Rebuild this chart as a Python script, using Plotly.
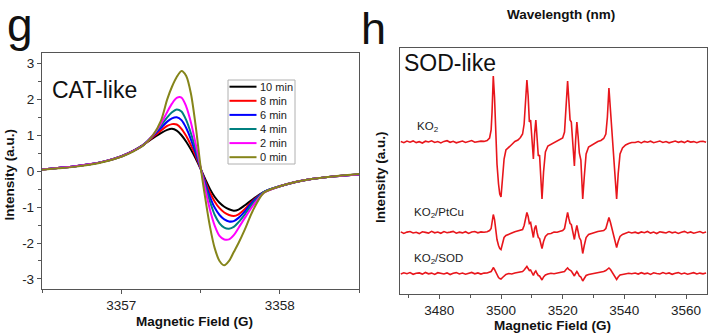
import plotly.graph_objects as go

W, H = 724, 336
FONT = "Liberation Sans, Arial, sans-serif"

# ---------------- Panel g data (CAT-like) ----------------
FIELD_G = [3356.50, 3356.60, 3356.70, 3356.80, 3356.90, 3357.00, 3357.08, 3357.14,
           3357.20, 3357.25, 3357.29, 3357.32, 3357.35, 3357.38, 3357.41, 3357.44,
           3357.47, 3357.50, 3357.53, 3357.56, 3357.59, 3357.62, 3357.65, 3357.68,
           3357.71, 3357.74, 3357.78, 3357.83, 3357.90, 3358.00, 3358.10, 3358.20,
           3358.35, 3358.50]
CAT_LABELS = ["10 min", "8 min", "6 min", "4 min", "2 min", "0 min"]
CAT_COLORS = ["#000000", "#ff0000", "#0000ff", "#008080", "#ff00ff", "#85851a"]
CAT_10 = [0.05, 0.09, 0.13, 0.19, 0.28, 0.42, 0.58, 0.74, 0.92, 1.06, 1.15, 1.18, 1.13, 1.00, 0.82, 0.60,
          0.35, 0.07, -0.22, -0.50, -0.72, -0.88, -0.99, -1.06, -1.10, -1.07, -0.95, -0.78, -0.58, -0.42,
          -0.30, -0.22, -0.14, -0.09]
CAT_8 = [0.05, 0.09, 0.13, 0.19, 0.28, 0.41, 0.57, 0.73, 0.95, 1.13, 1.26, 1.31, 1.30, 1.18, 0.98, 0.72,
         0.42, 0.08, -0.28, -0.60, -0.85, -1.03, -1.15, -1.22, -1.25, -1.20, -1.05, -0.82, -0.58, -0.42,
         -0.30, -0.22, -0.14, -0.09]
CAT_6 = [0.05, 0.09, 0.13, 0.19, 0.28, 0.41, 0.57, 0.73, 0.98, 1.20, 1.38, 1.47, 1.50, 1.42, 1.20, 0.88,
         0.50, 0.09, -0.33, -0.72, -1.02, -1.22, -1.34, -1.40, -1.39, -1.30, -1.12, -0.85, -0.58, -0.42,
         -0.30, -0.22, -0.14, -0.09]
CAT_4 = [0.05, 0.09, 0.13, 0.19, 0.28, 0.41, 0.57, 0.73, 1.00, 1.27, 1.50, 1.64, 1.72, 1.66, 1.42, 1.05,
         0.60, 0.10, -0.40, -0.85, -1.22, -1.45, -1.57, -1.60, -1.55, -1.42, -1.20, -0.90, -0.58, -0.42,
         -0.30, -0.22, -0.14, -0.09]
CAT_2 = [0.05, 0.09, 0.13, 0.19, 0.28, 0.41, 0.57, 0.73, 1.00, 1.32, 1.65, 1.88, 2.04, 2.05, 1.80, 1.35,
         0.75, 0.12, -0.50, -1.08, -1.52, -1.80, -1.90, -1.90, -1.78, -1.58, -1.30, -0.97, -0.60, -0.42,
         -0.30, -0.22, -0.14, -0.09]
CAT_0 = [0.04, 0.08, 0.12, 0.18, 0.27, 0.40, 0.56, 0.72, 1.00, 1.40, 2.00, 2.35, 2.62, 2.79, 2.65, 2.15,
         1.25, 0.15, -0.75, -1.55, -2.15, -2.50, -2.62, -2.50, -2.25, -2.00, -1.62, -1.10, -0.60, -0.42,
         -0.30, -0.22, -0.14, -0.08]
CAT_SERIES = [CAT_10, CAT_8, CAT_6, CAT_4, CAT_2, CAT_0]
G_XTICKS = [3357, 3358]
G_XTICK_TEXT = ["3357", "3358"]
G_YTICKS = [-3, -2, -1, 0, 1, 2, 3]
G_YTICK_TEXT = ["-3", "-2", "-1", "0", "1", "2", "3"]

# ---------------- Panel h data (SOD-like) ----------------
FIELD_H = [3467.5, 3468.5, 3469.5, 3470.5, 3471.5, 3472.5, 3473.5, 3474.5, 3475.5, 3476.5,
           3477.5, 3478.5, 3479.5, 3480.5, 3481.5, 3482.5, 3483.5, 3484.5, 3485.5, 3486.5,
           3487.5, 3488.5, 3489.5, 3490.5, 3491.5, 3492.5, 3493.5, 3494.5,
           3495.5, 3496.3, 3496.8, 3497.1, 3497.5, 3497.9, 3498.3, 3498.7, 3499.2, 3499.6,
           3500.0, 3500.5, 3501.0, 3501.6, 3502.5, 3503.5, 3504.5, 3505.5, 3506.3, 3507.0,
           3507.5, 3508.0, 3508.4, 3508.8, 3509.2, 3509.6, 3510.0, 3510.5, 3510.9, 3511.3,
           3511.7, 3512.1, 3512.5, 3512.9, 3513.3, 3513.8, 3514.4, 3515.2, 3516.2, 3517.2,
           3518.2, 3519.2, 3520.0, 3520.6, 3521.1, 3521.6, 3522.0, 3522.4, 3522.8, 3523.3,
           3523.8, 3524.2, 3524.6, 3525.0, 3525.4, 3525.9, 3526.5, 3527.0, 3527.6, 3528.4,
           3529.4, 3530.4, 3531.4, 3532.4, 3533.3, 3534.0, 3534.5, 3535.0, 3535.5, 3535.9,
           3536.3, 3536.9, 3537.5, 3538.0, 3538.6, 3539.4, 3540.4, 3541.4, 3542.4,
           3543.5, 3544.5, 3545.5, 3546.5, 3547.5, 3548.5, 3549.5, 3550.5, 3551.5, 3552.5,
           3553.5, 3554.5, 3555.5, 3556.5, 3557.5, 3558.5, 3559.5, 3560.5, 3561.5, 3562.5,
           3563.5, 3564.5, 3565.5, 3566.5]
KO2 = [0.4, -0.7, 0.9, -0.2, 1.1, -0.6, 0.3, -1.0, 0.8, 0.0, 1.2, -0.5, 0.5, -0.9, 0.6, 1.3,
       -0.3, 0.7, -0.8, 0.2, 1.0, -0.4, 0.6, 1.4, -0.2, 0.3, 0.9, 0.6,
       1.5, 4, 12, 30, 66, 45, 5, -22, -42, -52, -55, -38, -17, -8, -5, -2.5, 0.5, 2, 4.5, 8,
       18, 45, 62, 46, 20, 22, 8, -17, 8, 22, 4, -14, -13, -35, -57, -30, -10, -4, -2.5, -1,
       0.5, 2, 4, 10, 35, 61, 42, 22, 20, 2, -24, 2, 20, 6, -11, -18, -57, -35, -12, -5,
       -3, -1, 0.5, 1.5, 3.5, 8, 25, 54, 32, 14, 2, -28, -57, -32, -12, -6, -3, -1.5, -0.5,
       -0.5, 0.4, -0.9, 0.6, -0.2, 0.8, -0.7, 0.3, 1.0, -0.4, 0.5, -0.8, 0.2, 0.9, -0.3, 0.6,
       -0.6, 1.1, -0.1, 0.4, -0.7, 0.5, 0.8, -0.3]
KO2_PTCU = [0.6, -0.9, 0.4, 1.0, -0.5, 0.2, -1.1, 0.7, 0.1, -0.6, 1.2, -0.3, 0.5, -0.8, 0.9, -0.2,
            0.4, 1.1, -0.7, 0.3, -0.4, 0.8, -0.9, 0.5, 1.0, -0.3, 0.6, 0.2,
            0.8, 2, 4, 9, 18, 13, 2, -7, -13, -16, -17, -11, -5, -3, -1.5, -0.5, 0.8, 1.5, 2.5, 3,
            7, 15, 20, 16, 9, 10, 3, -5, 4, 7, 0, -5, -6, -10, -16, -9, -4, -1.5, -1, 0.5,
            0.2, 1.2, 2, 4, 11, 20, 14, 9, 8, 0, -7, 1, 7, 1, -5, -8, -21, -13, -5, -2,
            -1, 0.3, 1, 1.5, 2, 4, 9, 15, 10, 5, 0, -8, -15, -9, -4, -2, -1, 0.5, -0.5,
            0.3, -0.8, 0.6, -0.2, 1.0, -0.6, 0.4, -1.0, 0.7, 0.1, -0.5, 0.9, -0.3, 0.5, -0.9, 0.2,
            1.1, -0.4, 0.6, -0.7, 0.3, 0.9, -0.5, 0.4]
KO2_SOD = [-0.5, 0.7, -0.2, 0.9, -0.8, 0.3, 0.6, -0.6, 1.0, -0.3, 0.4, -0.9, 0.8, 0.1, -0.5, 0.6,
           -1.0, 0.3, 0.9, -0.4, 0.5, -0.7, 0.2, 1.1, -0.3, 0.6, -0.6, 0.4,
           0.5, 1, 2, 3.5, 6, 4, 1, -2, -4, -5, -5.5, -4, -2.5, -1, 0, -0.5, 0.5, 1, 1.5, 2,
           3.5, 5.5, 7, 5, 3, 3.5, 1, -2, 1, 2.5, 0, -2, -2.5, -4, -6.5, -3.5, -1.5, -0.5, 0.3, -0.3,
           0.5, 1, 1.5, 2, 4, 5.5, 4, 3, 2.5, 0, -2.5, 0, 2, 0, -2.5, -3.5, -7.5, -5, -2, -1,
           -0.5, 0.5, 1, 1.5, 2, 3, 4.5, 5.5, 4, 2, 0, -3, -6, -3.5, -1.5, -1, -0.5, 0.3, -0.3,
           0.5, -0.6, 0.8, -0.3, 0.4, -0.9, 0.7, 0.0, -0.5, 1.0, -0.2, 0.6, -0.8, 0.3, 0.9, -0.4,
           0.5, -0.7, 0.2, 0.8, -0.5, 0.4, -0.3, 0.6]
SOD_SERIES = [KO2, KO2_PTCU, KO2_SOD]
SOD_OFFSETS = [152, 61.5, 20.5]          # vertical stacking offsets (a.u.)
SOD_LABELS = ["KO<sub>2</sub>", "KO<sub>2</sub>/PtCu", "KO<sub>2</sub>/SOD"]
H_XTICKS = [3480, 3500, 3520, 3540, 3560]
H_XTICK_TEXT = ["3480", "3500", "3520", "3540", "3560"]


def px(x):
    return x / W


def py(y):
    return 1 - y / H


fig = go.Figure()

for lab, col, ys in zip(CAT_LABELS, CAT_COLORS, CAT_SERIES):
    fig.add_trace(go.Scatter(x=FIELD_G, y=ys, mode="lines", name=lab,
                             line=dict(color=col, width=2, shape="spline", smoothing=0.8),
                             xaxis="x", yaxis="y", showlegend=False))

for ys, off in zip(SOD_SERIES, SOD_OFFSETS):
    fig.add_trace(go.Scatter(x=FIELD_H, y=[v + off for v in ys], mode="lines",
                             line=dict(color="rgb(232,22,28)", width=1.6),
                             xaxis="x2", yaxis="y2", showlegend=False))

axcol = "#555555"
tickfont = dict(family=FONT, size=13.5, color="#222")
common = dict(showline=True, linecolor=axcol, linewidth=1.3, mirror=True,
              showgrid=False, zeroline=False, ticks="outside", ticklen=4,
              tickcolor=axcol, tickwidth=1.2, tickfont=tickfont)

fig.update_layout(
    width=W, height=H, margin=dict(l=0, r=0, t=0, b=0),
    paper_bgcolor="white", plot_bgcolor="white",
    xaxis=dict(domain=[px(42), px(359)], range=[3356.5, 3358.5],
               tickvals=G_XTICKS, ticktext=G_XTICK_TEXT,
               minor=dict(dtick=0.5, tick0=3356.5, ticks="outside", ticklen=3, tickcolor=axcol),
               anchor="y", **common),
    yaxis=dict(domain=[py(289), py(53)], range=[-3.28, 3.29],
               tickvals=G_YTICKS, ticktext=G_YTICK_TEXT,
               minor=dict(dtick=0.5, tick0=0, ticks="outside", ticklen=3, tickcolor=axcol),
               anchor="x", **common),
    xaxis2=dict(domain=[px(400), px(707)], range=[3467.25, 3566.8],
                tickvals=H_XTICKS, ticktext=H_XTICK_TEXT,
                minor=dict(dtick=10, tick0=3470, ticks="outside", ticklen=3, tickcolor=axcol),
                anchor="y2", **common),
    yaxis2=dict(domain=[py(294), py(48)], range=[0, 246], showticklabels=False,
                anchor="x2", **{k: v for k, v in common.items() if k != "ticks"}, ticks=""),
)

ann = []


def text(x, y, s, size, bold=False, anchor="left", angle=0, color="#111"):
    ann.append(dict(x=px(x), y=py(y), xref="paper", yref="paper", text=s, showarrow=False,
                    xanchor=anchor, yanchor="middle", textangle=angle,
                    font=dict(family=FONT, size=size, color=color,
                              weight="bold" if bold else "normal")))


text(5, 25, "g", 46)
text(359, 28, "h", 45)
text(50, 90, "CAT-like", 23)
text(402, 63, "SOD-like", 23)
text(194, 321.5, "Magnetic Field (G)", 13.5, bold=True, anchor="center")
text(552, 325, "Magnetic Field (G)", 13.5, bold=True, anchor="center")
text(561, 15, "Wavelength (nm)", 13.5, bold=True, anchor="center")
text(9, 174.5, "Intensity (a.u.)", 13.5, bold=True, anchor="center", angle=-90)
text(380, 177, "Intensity (a.u.)", 13.5, bold=True, anchor="center", angle=-90)

label_pos = [(415, 127), (412, 213), (412, 259)]
for lab, (x, y) in zip(SOD_LABELS, label_pos):
    text(x, y, lab, 11.5, color="#222")

# manual legend for panel g
shapes = [dict(type="rect", xref="paper", yref="paper", x0=px(228), x1=px(295),
               y0=py(164), y1=py(80), line=dict(color="#b0b0b0", width=1), fillcolor="white",
               layer="above")]
for i, (lab, col) in enumerate(zip(CAT_LABELS, CAT_COLORS)):
    yy = 86.7 + i * 14.1
    shapes.append(dict(type="line", xref="paper", yref="paper", x0=px(229.5), x1=px(256.5),
                       y0=py(yy), y1=py(yy), line=dict(color=col, width=2), layer="above"))
    text(257.5, yy, lab, 11, color="#222")

fig.update_layout(annotations=ann, shapes=shapes)
fig.write_html("out.html")
